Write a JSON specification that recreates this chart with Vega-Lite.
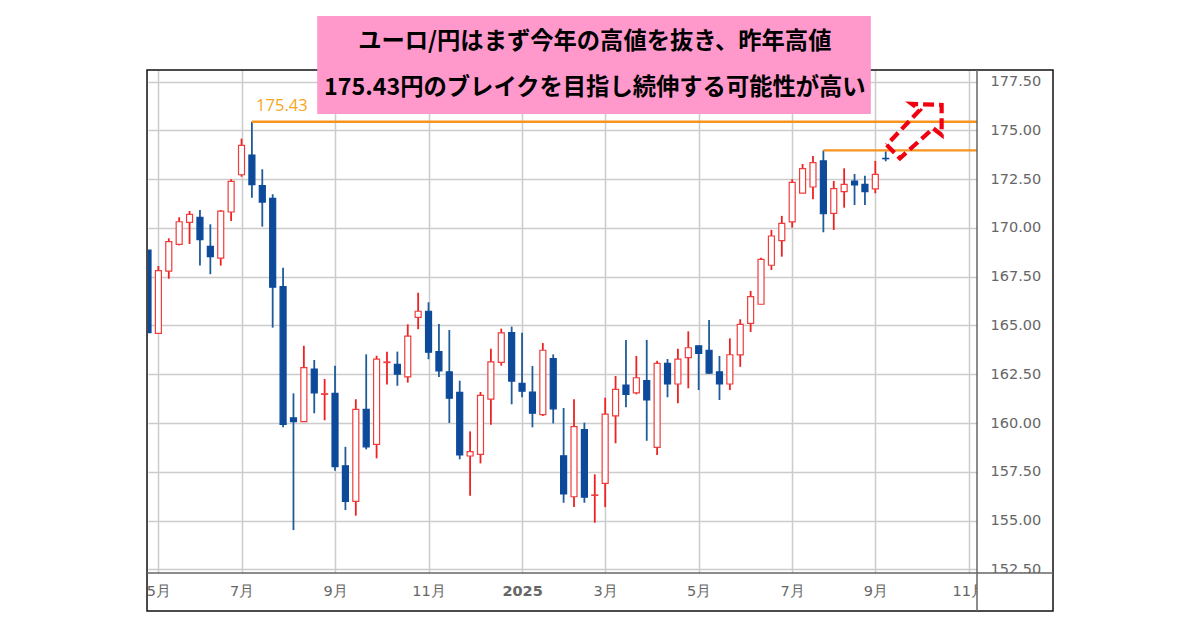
{"$schema":"https://vega.github.io/schema/vega-lite/v6.json","width":829,"height":503,"autosize":"none","padding":{"left":148,"top":70,"right":223,"bottom":57},"background":"white","config":{"view":{"stroke":null}},
"datasets":{"candles":[
{"date":"2024-04-29","open":168.87,"high":168.87,"low":164.63,"close":164.63,"dir":"down"},
{"date":"2024-05-06","open":164.60,"high":168.05,"low":164.60,"close":167.81,"dir":"up"},
{"date":"2024-05-13","open":167.79,"high":169.47,"low":167.40,"close":169.30,"dir":"up"},
{"date":"2024-05-20","open":169.16,"high":170.55,"low":169.11,"close":170.32,"dir":"up"},
{"date":"2024-05-27","open":170.29,"high":170.87,"low":169.18,"close":170.70,"dir":"up"},
{"date":"2024-06-03","open":170.55,"high":170.92,"low":168.07,"close":169.40,"dir":"down"},
{"date":"2024-06-10","open":169.06,"high":170.19,"low":167.63,"close":168.53,"dir":"down"},
{"date":"2024-06-17","open":168.45,"high":170.92,"low":168.07,"close":170.86,"dir":"up"},
{"date":"2024-06-24","open":170.82,"high":172.50,"low":170.36,"close":172.39,"dir":"up"},
{"date":"2024-07-01","open":172.73,"high":174.58,"low":172.63,"close":174.24,"dir":"up"},
{"date":"2024-07-08","open":173.74,"high":175.45,"low":171.55,"close":172.22,"dir":"down"},
{"date":"2024-07-15","open":172.17,"high":173.01,"low":170.07,"close":171.33,"dir":"down"},
{"date":"2024-07-22","open":171.52,"high":171.73,"low":164.89,"close":166.96,"dir":"down"},
{"date":"2024-07-29","open":166.99,"high":167.96,"low":159.78,"close":159.93,"dir":"down"},
{"date":"2024-08-05","open":160.26,"high":161.52,"low":154.51,"close":160.07,"dir":"down"},
{"date":"2024-08-12","open":160.07,"high":163.96,"low":160.07,"close":162.84,"dir":"up"},
{"date":"2024-08-19","open":162.77,"high":163.23,"low":160.50,"close":161.55,"dir":"down"},
{"date":"2024-08-26","open":161.47,"high":162.26,"low":160.14,"close":161.50,"dir":"up"},
{"date":"2024-09-02","open":161.52,"high":162.94,"low":157.55,"close":157.76,"dir":"down"},
{"date":"2024-09-09","open":157.81,"high":158.78,"low":155.54,"close":155.98,"dir":"down"},
{"date":"2024-09-16","open":155.98,"high":161.22,"low":155.25,"close":160.70,"dir":"up"},
{"date":"2024-09-23","open":160.70,"high":163.52,"low":158.65,"close":158.78,"dir":"down"},
{"date":"2024-09-30","open":158.91,"high":163.45,"low":158.19,"close":163.28,"dir":"up"},
{"date":"2024-10-07","open":163.10,"high":163.66,"low":161.98,"close":163.13,"dir":"up"},
{"date":"2024-10-14","open":163.01,"high":163.66,"low":161.91,"close":162.51,"dir":"down"},
{"date":"2024-10-21","open":162.37,"high":165.06,"low":162.07,"close":164.46,"dir":"up"},
{"date":"2024-10-28","open":165.42,"high":166.68,"low":164.81,"close":165.73,"dir":"up"},
{"date":"2024-11-04","open":165.73,"high":166.19,"low":163.27,"close":163.63,"dir":"down"},
{"date":"2024-11-11","open":163.66,"high":165.08,"low":162.36,"close":162.67,"dir":"down"},
{"date":"2024-11-18","open":162.62,"high":164.77,"low":160.00,"close":161.27,"dir":"down"},
{"date":"2024-11-25","open":161.57,"high":162.17,"low":158.14,"close":158.36,"dir":"down"},
{"date":"2024-12-02","open":158.31,"high":159.57,"low":156.27,"close":158.53,"dir":"up"},
{"date":"2024-12-09","open":158.39,"high":161.59,"low":157.93,"close":161.42,"dir":"up"},
{"date":"2024-12-16","open":161.22,"high":163.81,"low":159.91,"close":163.13,"dir":"up"},
{"date":"2024-12-23","open":163.11,"high":164.84,"low":162.94,"close":164.62,"dir":"up"},
{"date":"2024-12-30","open":164.63,"high":164.94,"low":160.96,"close":162.15,"dir":"down"},
{"date":"2025-01-06","open":162.04,"high":164.63,"low":161.32,"close":161.63,"dir":"down"},
{"date":"2025-01-13","open":161.59,"high":162.92,"low":159.78,"close":160.50,"dir":"down"},
{"date":"2025-01-20","open":160.43,"high":164.10,"low":160.36,"close":163.73,"dir":"up"},
{"date":"2025-01-27","open":163.30,"high":163.52,"low":159.98,"close":160.73,"dir":"down"},
{"date":"2025-02-03","open":158.32,"high":160.77,"low":155.91,"close":156.36,"dir":"down"},
{"date":"2025-02-10","open":156.22,"high":161.22,"low":155.69,"close":159.81,"dir":"up"},
{"date":"2025-02-17","open":159.66,"high":160.02,"low":155.91,"close":156.20,"dir":"down"},
{"date":"2025-02-24","open":156.29,"high":157.37,"low":154.89,"close":156.31,"dir":"up"},
{"date":"2025-03-03","open":156.91,"high":161.30,"low":155.69,"close":160.46,"dir":"up"},
{"date":"2025-03-10","open":160.37,"high":162.41,"low":158.96,"close":161.73,"dir":"up"},
{"date":"2025-03-17","open":161.95,"high":164.26,"low":160.81,"close":161.47,"dir":"down"},
{"date":"2025-03-24","open":161.55,"high":163.44,"low":161.47,"close":162.32,"dir":"up"},
{"date":"2025-03-31","open":162.17,"high":164.26,"low":159.09,"close":161.18,"dir":"down"},
{"date":"2025-04-07","open":158.75,"high":163.19,"low":158.36,"close":163.06,"dir":"up"},
{"date":"2025-04-14","open":163.06,"high":163.28,"low":161.32,"close":162.00,"dir":"down"},
{"date":"2025-04-21","open":162.00,"high":163.81,"low":161.01,"close":163.28,"dir":"up"},
{"date":"2025-04-28","open":163.35,"high":164.70,"low":161.78,"close":163.86,"dir":"up"},
{"date":"2025-05-05","open":163.96,"high":163.96,"low":161.69,"close":163.57,"dir":"down"},
{"date":"2025-05-12","open":163.73,"high":165.28,"low":162.51,"close":162.56,"dir":"down"},
{"date":"2025-05-19","open":162.62,"high":163.44,"low":161.18,"close":162.00,"dir":"down"},
{"date":"2025-05-26","open":162.00,"high":164.34,"low":161.69,"close":163.50,"dir":"up"},
{"date":"2025-06-02","open":163.49,"high":165.32,"low":162.88,"close":165.06,"dir":"up"},
{"date":"2025-06-09","open":165.11,"high":166.77,"low":164.67,"close":166.48,"dir":"up"},
{"date":"2025-06-16","open":166.09,"high":168.48,"low":166.09,"close":168.39,"dir":"up"},
{"date":"2025-06-23","open":168.09,"high":169.90,"low":167.85,"close":169.59,"dir":"up"},
{"date":"2025-06-30","open":169.35,"high":170.62,"low":168.53,"close":170.24,"dir":"up"},
{"date":"2025-07-07","open":170.31,"high":172.50,"low":170.02,"close":172.34,"dir":"up"},
{"date":"2025-07-14","open":171.79,"high":173.28,"low":171.79,"close":173.04,"dir":"up"},
{"date":"2025-07-21","open":172.10,"high":173.69,"low":171.47,"close":173.35,"dir":"up"},
{"date":"2025-07-28","open":173.44,"high":173.98,"low":169.78,"close":170.73,"dir":"down"},
{"date":"2025-08-04","open":170.75,"high":172.41,"low":169.90,"close":172.02,"dir":"up"},
{"date":"2025-08-11","open":171.86,"high":173.06,"low":171.04,"close":172.24,"dir":"up"},
{"date":"2025-08-18","open":172.41,"high":172.77,"low":171.18,"close":172.21,"dir":"down"},
{"date":"2025-08-25","open":172.24,"high":172.68,"low":171.18,"close":171.86,"dir":"down"},
{"date":"2025-09-01","open":172.00,"high":173.44,"low":171.78,"close":172.75,"dir":"up"},
{"date":"2025-09-08","open":173.57,"high":173.93,"low":173.42,"close":173.55,"dir":"down"}
]},
"encoding":{"x":{"field":"date","type":"temporal","title":null,"scale":{"type":"utc","nice":false,"padding":0,"domain":[{"year":2024,"month":4,"date":29,"utc":true},{"year":2025,"month":11,"date":8,"hours":12,"utc":true}]},
"axis":{"orient":"bottom","title":null,"domain":false,"ticks":false,"grid":true,"gridColor":"#cccccc","gridWidth":1.5,"labelColor":"#666666","labelFont":"DejaVu Sans","labelFontSize":14.5,"labelPadding":11,"labelOverlap":false,"labelFlush":false,"labelBound":false,"labelFontWeight":{"condition":{"test":"utcmonth(datum.value)==0","value":"bold"},"value":"normal"},"labelExpr":"utcmonth(datum.value)==0 ? ''+utcyear(datum.value) : (utcmonth(datum.value)+1)+'月'",
"values":[{"year":2024,"month":5,"date":6,"utc":true},{"year":2024,"month":7,"date":1,"utc":true},{"year":2024,"month":9,"date":2,"utc":true},{"year":2024,"month":11,"date":4,"utc":true},{"year":2025,"month":1,"date":6,"utc":true},{"year":2025,"month":3,"date":3,"utc":true},{"year":2025,"month":5,"date":5,"utc":true},{"year":2025,"month":7,"date":7,"utc":true},{"year":2025,"month":9,"date":1,"utc":true},{"year":2025,"month":11,"date":3,"utc":true}]}}},
"layer":[
{"data":{"name":"candles"},"mark":{"type":"rule","strokeWidth":1.8,"clip":true},"encoding":{"y":{"field":"low","type":"quantitative","title":null,"scale":{"domain":[152.31,178.1],"nice":false,"zero":false},"axis":{"orient":"right","title":null,"domain":false,"ticks":false,"grid":true,"gridColor":"#cccccc","gridWidth":1.5,"labelColor":"#666666","labelFont":"DejaVu Sans","labelFontSize":14.5,"labelPadding":13,"format":".2f","labelOverlap":false,"labelBound":false,"labelFlush":false,"values":[152.5,155,157.5,160,162.5,165,167.5,170,172.5,175,177.5]}},"y2":{"field":"high"},"color":{"field":"dir","type":"nominal","legend":null,"scale":{"domain":["up","down"],"range":["#ee2222","#1f5c99"]}}}},
{"data":{"name":"candles"},"mark":{"type":"bar","size":6,"strokeWidth":1.2,"clip":true},"encoding":{"y":{"field":"open","type":"quantitative"},"y2":{"field":"close"},"fill":{"field":"dir","type":"nominal","legend":null,"scale":{"domain":["up","down"],"range":["#ffffff","#0d4a9a"]}},"stroke":{"field":"dir","type":"nominal","legend":null,"scale":{"domain":["up","down"],"range":["#f03c3c","#0d4a9a"]}}}},
{"data":{"values":[{"date":"2024-07-08","date2":"2025-11-08T12:00:00Z","value":175.45},{"date":"2025-07-28","date2":"2025-11-08T12:00:00Z","value":173.98}],"format":{"parse":{"date":"date","date2":"date"}}},"mark":{"type":"rule","color":"#f7931e","strokeWidth":2.4},"encoding":{"x2":{"field":"date2"},"y":{"field":"value","type":"quantitative"}}},
{"data":{"values":[{"date":"2024-04-17","date2":"2024-04-28T08:00:00Z","value":152.31,"value2":150.4},{"date":"2025-11-08T12:00:00Z","date2":"2025-12-29T17:00:00Z","value":152.31,"value2":150.4}],"format":{"parse":{"date":"date","date2":"date"}}},"mark":{"type":"rect","fill":"white"},"encoding":{"x2":{"field":"date2"},"y":{"field":"value","type":"quantitative"},"y2":{"field":"value2"}}},
{"data":{"values":[{"date":"2024-04-28T08:00:00Z","date2":"2025-12-29T17:00:00Z","value":178.1,"value2":150.36}],"format":{"parse":{"date":"date","date2":"date"}}},"mark":{"type":"rect","fill":null,"fillOpacity":0,"stroke":"#111111","strokeWidth":1.5},"encoding":{"x2":{"field":"date2"},"y":{"field":"value","type":"quantitative"},"y2":{"field":"value2"}}},
{"data":{"values":[{"date":"2024-04-28T08:00:00Z","date2":"2025-12-29T17:00:00Z","value":152.31}],"format":{"parse":{"date":"date","date2":"date"}}},"mark":{"type":"rule","color":"#666666","strokeWidth":1.5},"encoding":{"x2":{"field":"date2"},"y":{"field":"value","type":"quantitative"}}},
{"data":{"values":[{"date":"2025-11-08T12:00:00Z","value":178.1,"value2":150.36}],"format":{"parse":{"date":"date"}}},"mark":{"type":"rule","color":"#666666","strokeWidth":1.5},"encoding":{"y":{"field":"value","type":"quantitative"},"y2":{"field":"value2"}}},
{"data":{"values":[{"date":"2024-08-21","date2":"2025-08-29","value":180.87,"value2":175.85}],"format":{"parse":{"date":"date","date2":"date"}}},"mark":{"type":"rect","fill":"#ff99cc"},"encoding":{"x2":{"field":"date2"},"y":{"field":"value","type":"quantitative"},"y2":{"field":"value2"}}},
{"data":{"values":[{"date":"2025-02-24","value":179.54,"label":"ユーロ/円はまず今年の高値を抜き、昨年高値"},{"date":"2025-02-24","value":177.18,"label":"175.43円のブレイクを目指し続伸する可能性が高い"}]},"mark":{"type":"text","font":"Noto Sans CJK JP","fontWeight":"bold","fontSize":23.3,"color":"#000000","align":"center","baseline":"middle"},"encoding":{"y":{"field":"value","type":"quantitative"},"text":{"field":"label"}}},
{"data":{"values":[{"date":"2024-07-10T20:00:00Z","value":176.26,"label":"175.43"}]},"mark":{"type":"text","font":"Open Sans","fontSize":16.5,"color":"#f5a623","align":"left","baseline":"middle"},"encoding":{"y":{"field":"value","type":"quantitative"},"text":{"field":"label"}}},
{"data":{"values":[{"date":"2025-09-08T16:00:00Z","value":174.26,"ord":1},{"date":"2025-09-17T14:00:00Z","value":173.57,"ord":2},{"date":"2025-10-10","value":175.11,"ord":3},{"date":"2025-10-15T16:00:00Z","value":174.77,"ord":4},{"date":"2025-10-15T16:00:00Z","value":176.31,"ord":5},{"date":"2025-09-25T12:00:00Z","value":176.36,"ord":6},{"date":"2025-10-01","value":176.05,"ord":7},{"date":"2025-09-08T16:00:00Z","value":174.26,"ord":8}]},"mark":{"type":"line","color":"#f00010","strokeWidth":4.2,"strokeDash":[11,5]},"encoding":{"y":{"field":"value","type":"quantitative"},"order":{"field":"ord","type":"quantitative"}}}
]}
